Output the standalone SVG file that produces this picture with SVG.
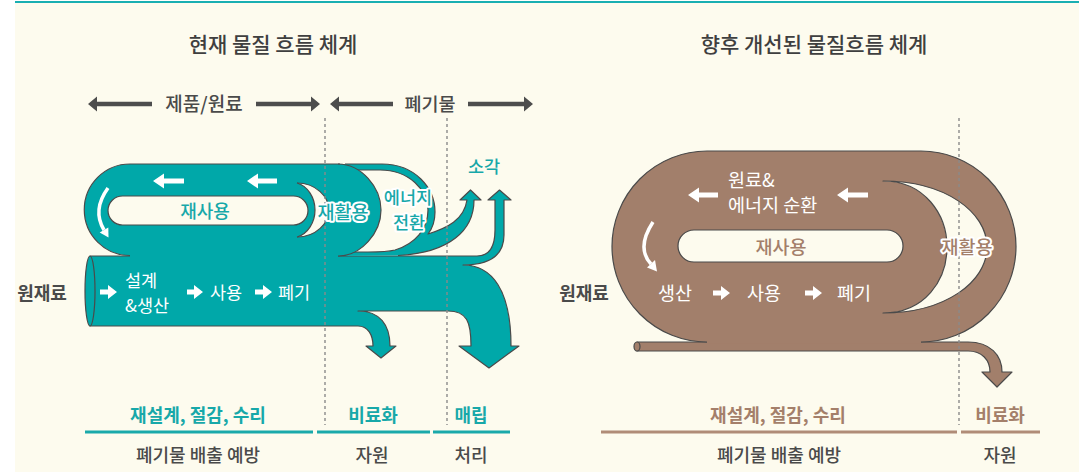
<svg xmlns="http://www.w3.org/2000/svg" width="1079" height="472" viewBox="0 0 1079 472">
<style>
.f{font-family:"Noto Sans CJK KR","Noto Sans",sans-serif}
.tl{fill:#00a8a9}
.br{fill:#a27f6b}
.ol{fill:none;stroke:#4a4a4a;stroke-width:1.2;stroke-linejoin:round}
.olf{stroke:#4a4a4a;stroke-width:1.2;stroke-linejoin:round}
.cr{fill:#fdfbee}
.wt{fill:#fff}
.dk{fill:#4a4a4a}
.ttx{fill:#17a8a9}
.btx{fill:#a47f6a}
.dot{stroke:#8a8a8a;stroke-width:1.4;stroke-dasharray:3 3}
.halo{stroke:#fff;stroke-width:4;paint-order:stroke;stroke-linejoin:round}
.wa{fill:none;stroke:#fff;stroke-width:3.5}
</style>
<g id="background">
<rect width="1079" height="472" fill="#fff"/>
<rect x="15" y="3" width="1064" height="469" fill="#fdfbee"/>
<line x1="15" y1="2" x2="1079" y2="2" stroke="#1aafb2" stroke-width="2"/>
</g>
<g id="titles" class="f" font-size="21" font-weight="500" fill="#3f3f3f" text-anchor="middle">
<text x="273" y="52">현재 물질 흐름 체계</text>
<text x="814" y="52">향후 개선된 물질흐름 체계</text>
</g>
<g id="scale-arrows" fill="#4d4d4d">
<path d="M88 104 L97 96.5 L97 101.8 L152 101.8 L152 106.2 L97 106.2 L97 111.5 Z"/>
<path d="M320 104 L311 96.5 L311 101.8 L256 101.8 L256 106.2 L311 106.2 L311 111.5 Z"/>
<path d="M330 104 L339 96.5 L339 101.8 L393 101.8 L393 106.2 L339 106.2 L339 111.5 Z"/>
<path d="M533 104 L524 96.5 L524 101.8 L468 101.8 L468 106.2 L524 106.2 L524 111.5 Z"/>
<text class="f dk" x="204" y="111" font-size="19" font-weight="500" text-anchor="middle">제품/원료</text>
<text class="f dk" x="430" y="111" font-size="18.5" font-weight="500" text-anchor="middle">폐기물</text>
</g>
<g id="current-flow">
<path class="tl olf" d="M90 256 L477 256 Q495 256 495 230 L495 200 L488 200 L499.5 190 L511 200 L504 200 L504 235 Q504 265 463 265 C492 265 511 290 511 346 L519 346 L489 368 L459 346 L471 346 C471 322 467 311 448 311 L358 311 C380 311 390 325 390 346 L396 346 L381 358 L366 346 L373 346 C373 335 368 326 358 326 L90 326 Z"/>
<ellipse class="tl olf" cx="90" cy="291" rx="5" ry="35"/>
<path class="tl" d="M340 164 L382 164 C415 164 435 188 435 212 C435 222 432 229 428 234 C447 228 464 220 467 200 L460 200 L470.5 190 L481 200 L474 200 C474 230 450 253 398 255.5 L340 256 Z"/>
<path class="ol" d="M345 164 L382 164 C415 164 435 188 435 212 C435 222 432 229 428 234 C447 228 464 220 467 200 L460 200 L470.5 190 L481 200 L474 200 C474 230 450 253 398 255.5"/>
<path class="cr olf" d="M340 170 L380 170 C409 170 428 190 428 210 C428 229 415 244 395 250 C387 252 378 252 368 252 L340 252 Z"/>
<path class="tl" d="M200 164 L338 164 C361 164 381 187 381 210 C381 233 361 256 338 256 L338 257.6 L200 257.6 Z"/>
<path class="ol" d="M338 164 C361 164 381 187 381 210 C381 233 361 256 338 256"/>
<path class="cr olf" d="M250 183 L297 183 C316 183 329 197 329 210 C329 223 316 237 297 237 L250 237 Z"/>
<path class="tl" d="M130 164 L297 164 L297 183 C308 186 315 198 315 210 C315 222 308 234 297 237 L297 257.6 L130 257.6 L130 255.5 A45.75 45.75 0 0 1 130 164 Z"/>
<path class="ol" d="M130 255.5 A45.75 45.75 0 0 1 130 164 L340 164"/>
<path class="ol" d="M297 183 C308 186 315 198 315 210 C315 222 308 234 297 237"/>
<rect class="cr olf" x="108" y="196" width="200" height="29" rx="14.5"/>
<g class="wt">
<path d="M153 181 L164 173.5 L164 178.5 L184 178.5 L184 183.5 L164 183.5 L164 188.5 Z"/>
<path d="M247 181 L258 173.5 L258 178.5 L277 178.5 L277 183.5 L258 183.5 L258 188.5 Z"/>
<path d="M100 289.5 L108 289.5 L108 285 L117 292 L108 299 L108 294.5 L100 294.5 Z"/>
<path d="M187 289.5 L194 289.5 L194 285 L203 292 L194 299 L194 294.5 L187 294.5 Z"/>
<path d="M255 289.5 L263 289.5 L263 285 L272 292 L263 299 L263 294.5 L255 294.5 Z"/>
<polygon points="99.7,232.6 108.3,227.4 108.5,237.5"/>
</g>
<path class="wa" d="M108 188 Q92 210 104 230"/>
</g>
<g id="improved-flow">
<path class="br olf" d="M637 342 L968 342 C990 342 1002 355 1002 372 L1012 372 L997 387 L982 372 L990 372 C990 360 982 351 968 351 L637 351 Z"/>
<ellipse class="br olf" cx="637" cy="346.5" rx="3" ry="4.5"/>
<path class="br" d="M707 151 L921 151 A95 95.5 0 0 1 921 342 L921 343.5 L707 343.5 L707 342 A95 95.5 0 0 1 707 151 Z"/>
<path class="ol" d="M707 342 A95 95.5 0 0 1 707 151 L921 151 A95 95.5 0 0 1 921 342"/>
<path class="cr olf" d="M883 181 C945 181 987 212 987 247 C987 282 945 313 883 313 C925 313 947 280 947 247 C947 215 925 181 883 181 Z"/>
<rect class="cr olf" x="678" y="230" width="225" height="32" rx="16"/>
<g class="wt">
<path d="M688 195 L699 187.5 L699 192.5 L718 192.5 L718 197.5 L699 197.5 L699 202.5 Z"/>
<path d="M837 195 L848 187.5 L848 192.5 L868 192.5 L868 197.5 L848 197.5 L848 202.5 Z"/>
<path d="M713 290.5 L721 290.5 L721 286 L730 293 L721 300 L721 295.5 L713 295.5 Z"/>
<path d="M805 290.5 L813 290.5 L813 286 L822 293 L813 300 L813 295.5 L805 295.5 Z"/>
<polygon points="647,267.5 655,260 657,271.5"/>
</g>
<path class="wa" d="M653 222 Q636 248 651 264"/>
</g>
<g id="dividers" class="dot">
<line x1="325" y1="118" x2="325" y2="425"/>
<line x1="447" y1="118" x2="447" y2="425"/>
<line x1="959" y1="118" x2="959" y2="425"/>
</g>
<g id="current-labels" class="f">
<text class="ttx" x="484" y="172.5" font-size="17.5" font-weight="500" text-anchor="middle">소각</text>
<text class="ttx" x="205" y="217.5" font-size="18" font-weight="500" text-anchor="middle">재사용</text>
<text class="ttx halo" x="343" y="219" font-size="18.5" font-weight="500" text-anchor="middle">재활용</text>
<text class="ttx halo" x="408" y="204" font-size="17.5" font-weight="500" text-anchor="middle">에너지</text>
<text class="ttx halo" x="409" y="229" font-size="17.5" font-weight="500" text-anchor="middle">전환</text>
<text class="dk" x="42" y="300" font-size="18" font-weight="700" text-anchor="middle">원재료</text>
<g class="wt" font-size="17.5">
<text x="125" y="286.5">설계</text>
<text x="125" y="311.5">&amp;생산</text>
<text x="210" y="298.5">사용</text>
<text x="278" y="298.5">폐기</text>
</g>
</g>
<g id="improved-labels" class="f">
<g class="wt" font-size="18.5">
<text x="728" y="187">원료&amp;</text>
<text x="728" y="212">에너지 순환</text>
<text x="658" y="300">생산</text>
<text x="747" y="300">사용</text>
<text x="837" y="300">폐기</text>
</g>
<text class="btx" x="781" y="254" font-size="18.5" font-weight="500" text-anchor="middle">재사용</text>
<text class="btx halo" x="967" y="254" font-size="18.5" font-weight="500" text-anchor="middle">재활용</text>
<text class="dk" x="584" y="300" font-size="18" font-weight="700" text-anchor="middle">원재료</text>
</g>
<g id="bottom-scale" class="f" font-size="18" text-anchor="middle">
<g stroke-width="3">
<line x1="85" y1="432" x2="313" y2="432" stroke="#1aa9aa"/>
<line x1="317" y1="432" x2="430" y2="432" stroke="#1aa9aa"/>
<line x1="433" y1="432" x2="510" y2="432" stroke="#1aa9aa"/>
<line x1="601" y1="432" x2="957" y2="432" stroke="#b08c77"/>
<line x1="961" y1="432" x2="1040" y2="432" stroke="#b08c77"/>
</g>
<g class="ttx" font-weight="700">
<text x="198" y="421.5">재설계, 절감, 수리</text>
<text x="373" y="421.5">비료화</text>
<text x="471" y="421.5">매립</text>
</g>
<g class="btx" font-weight="700">
<text x="778" y="421.5">재설계, 절감, 수리</text>
<text x="1000" y="421.5">비료화</text>
</g>
<g class="dk" font-weight="500">
<text x="198" y="461.5">폐기물 배출 예방</text>
<text x="372" y="461.5">자원</text>
<text x="471" y="461.5">처리</text>
<text x="779" y="461.5">폐기물 배출 예방</text>
<text x="1000" y="461.5">자원</text>
</g>
</g>
</svg>
